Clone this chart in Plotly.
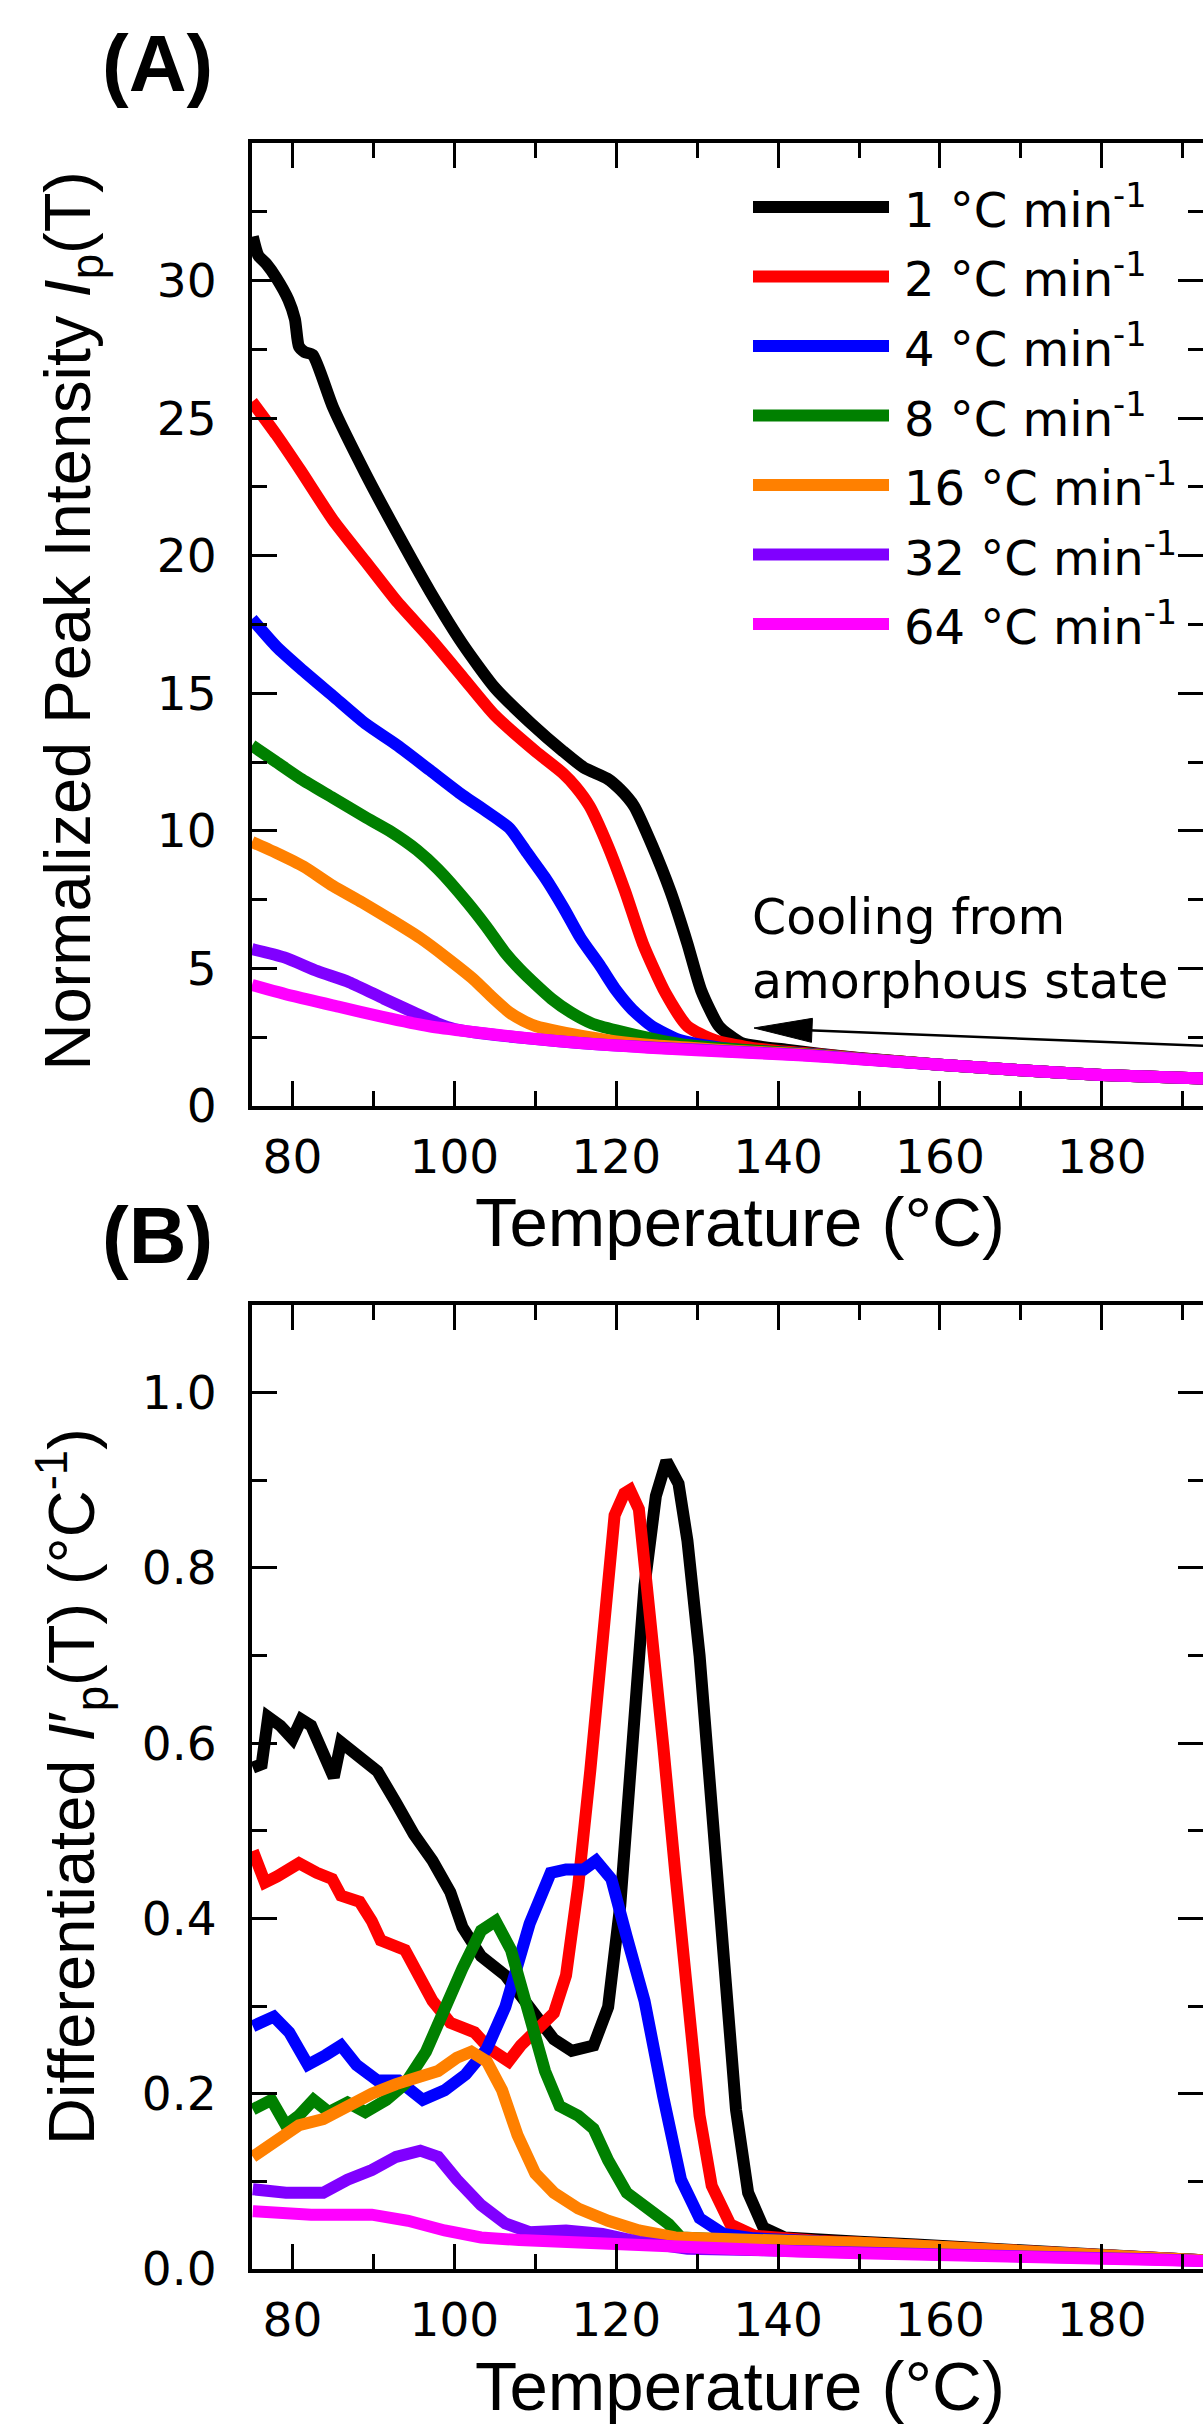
import plotly.graph_objects as go

W, H = 1203, 2427

series_labels = ["1 °C min<sup>-1</sup>", "2 °C min<sup>-1</sup>", "4 °C min<sup>-1</sup>",
                 "8 °C min<sup>-1</sup>", "16 °C min<sup>-1</sup>", "32 °C min<sup>-1</sup>",
                 "64 °C min<sup>-1</sup>"]
series_colors = ["#000000", "#ff0000", "#0000ff", "#008000", "#ff8000", "#8000ff", "#ff00ff"]

x_tick_vals = [80, 100, 120, 140, 160, 180]
x_minor_vals = [90, 110, 130, 150, 170, 190]
ya_tick_vals = [0, 5, 10, 15, 20, 25, 30]
ya_minor_vals = [2.5, 7.5, 12.5, 17.5, 22.5, 27.5, 32.5]
yb_tick_vals = [0.0, 0.2, 0.4, 0.6, 0.8, 1.0]
yb_tick_text = ["0.0", "0.2", "0.4", "0.6", "0.8", "1.0"]
yb_minor_vals = [0.1, 0.3, 0.5, 0.7, 0.9]

# ---------------- Panel A: normalized peak intensity ----------------
a_temp_1 = [75.1, 75.8, 76.8, 78.0, 79.5, 80.3, 80.8, 81.5, 82.5, 85, 89, 93, 97, 101, 105, 109.5,
            113.4, 116, 118.9, 120.5, 122.2, 124.4, 126.7, 128.8, 130.5, 132.7, 135.4, 138, 141,
            145, 150, 160, 170, 180, 192.5]
a_int_1 = [31.6, 30.9, 30.6, 30.1, 29.3, 28.6, 27.6, 27.4, 27.3, 25.4, 23.0, 20.8, 18.7, 16.8, 15.2,
           13.9, 12.9, 12.3, 11.9, 11.5, 10.9, 9.5, 7.8, 5.9, 4.2, 2.9, 2.3, 2.15, 2.05,
           1.9, 1.75, 1.5, 1.3, 1.13, 1.0]

a_temp_2 = [75, 78, 81, 85, 89, 93, 97, 101, 105, 110, 113.4, 115, 116.7, 118.9, 121.1, 123.3,
            126.1, 128.8, 132.1, 136, 140, 145, 150, 160, 170, 180, 192.5]
a_int_2 = [25.6, 24.4, 23.1, 21.3, 19.8, 18.3, 17.0, 15.6, 14.2, 12.9, 12.1, 11.6, 10.9, 9.5, 7.8,
           5.9, 4.1, 2.9, 2.4, 2.15, 2.0, 1.88, 1.74, 1.5, 1.3, 1.13, 1.0]

a_temp_3 = [75, 78, 81, 85, 89, 93, 97, 101, 104, 106.8, 109, 111.2, 113.5, 115.6, 118, 120, 122,
            124.4, 127.8, 131, 135, 140, 145, 150, 160, 170, 180, 192.5]
a_int_3 = [17.7, 16.7, 15.9, 14.9, 13.9, 13.1, 12.2, 11.3, 10.7, 10.1, 9.2, 8.3, 7.2, 6.1, 5.1, 4.2,
           3.5, 2.9, 2.4, 2.2, 2.05, 1.95, 1.86, 1.73, 1.5, 1.3, 1.13, 1.0]

a_temp_4 = [75, 78, 81, 85, 89, 92, 95.4, 98, 101.6, 104, 106.2, 108, 110.1, 112, 114.4, 117, 120,
            124.4, 128, 133, 140, 145, 150, 160, 170, 180, 192.5]
a_int_4 = [13.1, 12.5, 11.9, 11.2, 10.5, 10.0, 9.3, 8.6, 7.4, 6.5, 5.6, 5.0, 4.4, 3.9, 3.4, 3.0,
           2.75, 2.45, 2.25, 2.1, 1.95, 1.85, 1.72, 1.5, 1.3, 1.13, 1.0]

a_temp_5 = [75, 78, 81.4, 85, 88.6, 92, 95.8, 99, 102.4, 104.5, 106.8, 108.5, 110.1, 113, 116.7,
            120, 125, 130, 135, 140, 145, 150, 160, 170, 180, 192.5]
a_int_5 = [9.6, 9.2, 8.7, 8.0, 7.4, 6.8, 6.1, 5.4, 4.6, 4.0, 3.4, 3.1, 2.9, 2.7, 2.5, 2.35, 2.2,
           2.1, 2.0, 1.93, 1.84, 1.72, 1.5, 1.3, 1.13, 1.0]

a_temp_6 = [75, 79, 83.1, 87, 91.3, 95, 98, 100, 102.4, 106, 110, 115, 120, 125, 130, 135, 140,
            145, 150, 160, 170, 180, 192.5]
a_int_6 = [5.7, 5.4, 4.9, 4.5, 3.9, 3.4, 3.0, 2.8, 2.68, 2.55, 2.43, 2.3, 2.2, 2.12, 2.05, 1.97,
           1.9, 1.82, 1.71, 1.5, 1.3, 1.13, 1.0]

a_temp_7 = [75, 80, 85.8, 91, 96.9, 102, 107.9, 113, 118.9, 124, 129.9, 135, 140, 145, 150, 160,
            170, 180, 192.5]
a_int_7 = [4.4, 4.0, 3.6, 3.25, 2.9, 2.7, 2.5, 2.35, 2.22, 2.12, 2.03, 1.95, 1.88, 1.8, 1.7, 1.5,
           1.3, 1.13, 1.0]

# ---------------- Panel B: differentiated intensity ----------------
b_temp_1 = [75.1, 76.2, 77.0, 78.5, 80.0, 81.1, 82.3, 83.8, 85.1, 86.0, 87.9, 90.5, 92.8, 95.0,
            97.3, 99.5, 101.0, 103.3, 106.3, 109.3, 112.3, 114.5, 117.2, 119.0, 120.5, 122.0,
            123.5, 124.9, 126.2, 127.7, 128.8, 130.3, 131.8, 133.3, 134.8, 136.3, 138.2, 140.8,
            145, 150, 157, 165, 172, 180, 186, 192.5]
b_diff_1 = [0.572, 0.576, 0.630, 0.620, 0.605, 0.627, 0.620, 0.590, 0.561, 0.601, 0.587, 0.568,
            0.532, 0.496, 0.466, 0.430, 0.390, 0.357, 0.335, 0.299, 0.262, 0.249, 0.255, 0.299,
            0.415, 0.598, 0.780, 0.882, 0.922, 0.896, 0.831, 0.700, 0.525, 0.343, 0.182, 0.087,
            0.047, 0.036, 0.033, 0.031, 0.028, 0.023, 0.019, 0.015, 0.013, 0.010]

b_temp_2 = [75.1, 76.6, 78.1, 80.8, 83.0, 84.9, 86.0, 88.3, 89.8, 90.9, 93.9, 95.4, 97.3, 99.5,
            102.5, 104.4, 106.7, 108.2, 110.0, 112.3, 113.8, 115.3, 116.8, 118.3, 119.8, 121.0,
            121.7, 122.8, 124.3, 125.8, 127.3, 128.8, 130.3, 131.8, 134.1, 137.1, 141, 145, 150,
            157, 165, 172, 180, 186, 192.5]
b_diff_2 = [0.477, 0.441, 0.448, 0.463, 0.452, 0.445, 0.426, 0.419, 0.397, 0.375, 0.364, 0.335,
            0.306, 0.281, 0.270, 0.251, 0.237, 0.255, 0.270, 0.292, 0.335, 0.437, 0.569, 0.729,
            0.860, 0.885, 0.889, 0.867, 0.743, 0.598, 0.452, 0.306, 0.175, 0.095, 0.051, 0.038,
            0.034, 0.032, 0.030, 0.027, 0.022, 0.018, 0.015, 0.013, 0.010]

b_temp_3 = [75.1, 77.7, 79.6, 81.9, 84.1, 86.0, 87.9, 90.5, 93.1, 96.1, 98.8, 101.4, 104.0, 106.3,
            109.3, 111.9, 113.8, 116.0, 117.5, 119.4, 121.3, 123.5, 125.8, 128.0, 130.3, 133.3,
            137, 141, 145, 150, 157, 165, 172, 180, 186, 192.5]
b_diff_3 = [0.277, 0.288, 0.270, 0.233, 0.244, 0.255, 0.233, 0.215, 0.215, 0.193, 0.204, 0.222,
            0.251, 0.299, 0.394, 0.452, 0.456, 0.456, 0.466, 0.445, 0.379, 0.306, 0.197, 0.102,
            0.058, 0.040, 0.035, 0.033, 0.031, 0.029, 0.027, 0.022, 0.018, 0.015, 0.013, 0.010]

b_temp_4 = [75.1, 77.4, 79.2, 80.8, 82.6, 84.5, 86.8, 89.0, 91.6, 93.9, 96.5, 98.8, 101.0, 103.3,
            105.1, 107.0, 109.3, 111.2, 113.0, 115.3, 117.2, 119.0, 121.3, 124.3, 126.5, 128.0,
            131, 135, 141, 145, 150, 157, 165, 172, 180, 186, 192.5]
b_diff_4 = [0.182, 0.193, 0.164, 0.175, 0.193, 0.179, 0.190, 0.179, 0.193, 0.211, 0.248, 0.299,
            0.343, 0.386, 0.397, 0.364, 0.292, 0.226, 0.186, 0.175, 0.160, 0.124, 0.087, 0.066,
            0.051, 0.036, 0.034, 0.033, 0.032, 0.031, 0.030, 0.026, 0.022, 0.018, 0.015, 0.012,
            0.010]

b_temp_5 = [75.1, 77.7, 80.8, 83.8, 86.8, 89.8, 92.8, 95.8, 98.0, 100.3, 102.1, 104.0, 105.9,
            107.8, 110.0, 112.3, 115.3, 119.0, 122.8, 127.3, 132, 137, 141, 145, 150, 157, 165,
            172, 180, 186, 192.5]
b_diff_5 = [0.128, 0.146, 0.164, 0.171, 0.186, 0.200, 0.211, 0.219, 0.226, 0.241, 0.248, 0.237,
            0.204, 0.153, 0.109, 0.087, 0.069, 0.055, 0.044, 0.036, 0.034, 0.033, 0.032, 0.031,
            0.030, 0.027, 0.022, 0.018, 0.015, 0.013, 0.010]

b_temp_6 = [75.1, 79.2, 83.8, 86.8, 89.8, 92.8, 95.8, 98.0, 100.3, 103.3, 106.3, 109.3, 113.8,
            118.3, 122.8, 128.8, 135, 141, 145, 150, 157, 165, 172, 180, 186, 192.5]
b_diff_6 = [0.091, 0.087, 0.087, 0.102, 0.113, 0.128, 0.135, 0.128, 0.102, 0.073, 0.052, 0.042,
            0.044, 0.040, 0.031, 0.023, 0.022, 0.021, 0.021, 0.020, 0.018, 0.016, 0.014, 0.012,
            0.011, 0.009]

b_temp_7 = [75.1, 82.3, 89.8, 94.3, 98.8, 103.3, 108, 112.3, 120, 127.3, 135, 142.3, 150, 157.3,
            165, 172.3, 180, 186, 192.5]
b_diff_7 = [0.066, 0.062, 0.062, 0.055, 0.044, 0.036, 0.033, 0.031, 0.028, 0.026, 0.023, 0.020,
            0.018, 0.016, 0.014, 0.012, 0.011, 0.010, 0.009]

a_temps = [a_temp_1, a_temp_2, a_temp_3, a_temp_4, a_temp_5, a_temp_6, a_temp_7]
a_ints = [a_int_1, a_int_2, a_int_3, a_int_4, a_int_5, a_int_6, a_int_7]
b_temps = [b_temp_1, b_temp_2, b_temp_3, b_temp_4, b_temp_5, b_temp_6, b_temp_7]
b_diffs = [b_diff_1, b_diff_2, b_diff_3, b_diff_4, b_diff_5, b_diff_6, b_diff_7]

# ---------------- geometry (pixels) ----------------
L = 252
PW = W - L
A_TOP, A_BOT = 143, 1106
B_TOP, B_BOT = 1305, 2269
X_RANGE = [75, 192.5]
YA_RANGE = [0, 35]
YB_RANGE = [0, 1.1]
LINE_W = 12
TICK_FONT = dict(family="DejaVu Sans", size=47, color="black")
TITLE_FAMILY = "Arial"


def pxf(xpx):
    return (xpx - L) / PW


def pyf(ypx):
    return 1 - ypx / H


fig = go.Figure()
for i in range(7):
    fig.add_trace(go.Scatter(x=a_temps[i], y=a_ints[i], mode="lines", xaxis="x", yaxis="y",
                             line=dict(color=series_colors[i], width=LINE_W, shape="spline",
                                       smoothing=0.6),
                             showlegend=False, hoverinfo="skip"))
for i in range(7):
    fig.add_trace(go.Scatter(x=b_temps[i], y=b_diffs[i], mode="lines", xaxis="x2", yaxis="y2",
                             line=dict(color=series_colors[i], width=LINE_W),
                             showlegend=False, hoverinfo="skip"))

axis_common = dict(showline=True, linecolor="black", linewidth=4, mirror="ticks",
                   ticks="inside", ticklen=25, tickwidth=3, tickcolor="black",
                   showgrid=False, zeroline=False, tickfont=TICK_FONT, automargin=False)

xa = dict(axis_common, range=X_RANGE, tickmode="array", tickvals=x_tick_vals,
          ticklabelstandoff=7,
          minor=dict(tickmode="array", tickvals=x_minor_vals, ticks="inside", ticklen=15,
                     tickwidth=3, tickcolor="black"))

fig.update_layout(
    width=W, height=H, autosize=False,
    margin=dict(l=L, r=0, t=0, b=0),
    paper_bgcolor="white", plot_bgcolor="white",
    xaxis=dict(xa, domain=[0, 1], anchor="y"),
    yaxis=dict(axis_common, range=YA_RANGE, domain=[pyf(A_BOT), pyf(A_TOP)], anchor="x",
               tickmode="array", tickvals=ya_tick_vals, ticklabelstandoff=22,
               minor=dict(tickmode="array", tickvals=ya_minor_vals, ticks="inside",
                          ticklen=15, tickwidth=3, tickcolor="black")),
    xaxis2=dict(xa, domain=[0, 1], anchor="y2"),
    yaxis2=dict(axis_common, range=YB_RANGE, domain=[pyf(B_BOT), pyf(B_TOP)], anchor="x2",
                tickmode="array", tickvals=yb_tick_vals, ticktext=yb_tick_text,
                ticklabelstandoff=22,
                minor=dict(tickmode="array", tickvals=yb_minor_vals, ticks="inside",
                           ticklen=15, tickwidth=3, tickcolor="black")),
)

shapes = []
annotations = []

# legend (drawn manually, pixel layout)
LEG_Y0, LEG_DY = 207, 69.5
LEG_X0, LEG_X1, LEG_TX = 753, 889, 902
for i in range(7):
    yy = pyf(LEG_Y0 + LEG_DY * i)
    shapes.append(dict(type="line", xref="paper", yref="paper", x0=pxf(LEG_X0), x1=pxf(LEG_X1),
                       y0=yy, y1=yy, line=dict(color=series_colors[i], width=LINE_W)))
    annotations.append(dict(xref="paper", yref="paper", x=pxf(LEG_TX), y=yy, text=series_labels[i],
                            showarrow=False, xanchor="left", yanchor="middle",
                            font=dict(family="DejaVu Sans", size=48, color="black")))

# arrow "Cooling from amorphous state"
tip = (754, 1028)
tail = (1203, 1046)
dx, dy = tail[0] - tip[0], tail[1] - tip[1]
ln = (dx * dx + dy * dy) ** 0.5
ux, uy = dx / ln, dy / ln
nx, ny = -uy, ux
HL, HW = 58, 12
bx, by = tip[0] + ux * HL, tip[1] + uy * HL
shapes.append(dict(type="line", xref="paper", yref="paper", x0=pxf(bx - ux * 4), y0=pyf(by - uy * 4),
                   x1=pxf(tail[0] + 5), y1=pyf(tail[1]), line=dict(color="black", width=2.5)))
p1 = (pxf(tip[0]), pyf(tip[1]))
p2 = (pxf(bx + nx * HW), pyf(by + ny * HW))
p3 = (pxf(bx - nx * HW), pyf(by - ny * HW))
shapes.append(dict(type="path", xref="paper", yref="paper",
                   path=f"M{p1[0]},{p1[1]} L{p2[0]},{p2[1]} L{p3[0]},{p3[1]} Z",
                   fillcolor="black", line=dict(color="black", width=1)))
annotations.append(dict(xref="paper", yref="paper", x=pxf(750), y=pyf(950),
                        text="Cooling from<br>amorphous state", showarrow=False,
                        xanchor="left", yanchor="middle", align="left",
                        font=dict(family="DejaVu Sans", size=49, color="black")))

# panel labels
for lab, ycen in (("(A)", 63), ("(B)", 1235)):
    annotations.append(dict(xref="paper", yref="paper", x=pxf(157), y=pyf(ycen),
                            text=f"<b>{lab}</b>", showarrow=False, xanchor="center",
                            yanchor="middle", font=dict(family=TITLE_FAMILY, size=80, color="black")))

# axis titles (x: placed by baseline)
for ybase in (1247, 2411):
    annotations.append(dict(xref="paper", yref="paper", x=pxf(740), y=pyf(ybase + 16),
                            text="Temperature (°C)", showarrow=False, xanchor="center",
                            yanchor="bottom", font=dict(family=TITLE_FAMILY, size=69, color="black")))
annotations.append(dict(xref="paper", yref="paper", x=pxf(72), y=pyf((A_TOP + A_BOT) / 2 - 4),
                        text="Normalized Peak Intensity <i>I</i><sub>p</sub>(T)", textangle=-90,
                        showarrow=False, xanchor="center", yanchor="middle",
                        font=dict(family=TITLE_FAMILY, size=65, color="black")))
annotations.append(dict(xref="paper", yref="paper", x=pxf(72), y=pyf((B_TOP + B_BOT) / 2),
                        text="Differentiated <i>I</i>′<sub>p</sub>(T) (°C<sup>-1</sup>)",
                        textangle=-90, showarrow=False, xanchor="center", yanchor="middle",
                        font=dict(family=TITLE_FAMILY, size=65, color="black")))

fig.update_layout(shapes=shapes, annotations=annotations)

fig.write_html("out.html", config={"displayModeBar": False},
               post_script="document.body.style.margin='0';document.body.style.overflow='hidden';")
